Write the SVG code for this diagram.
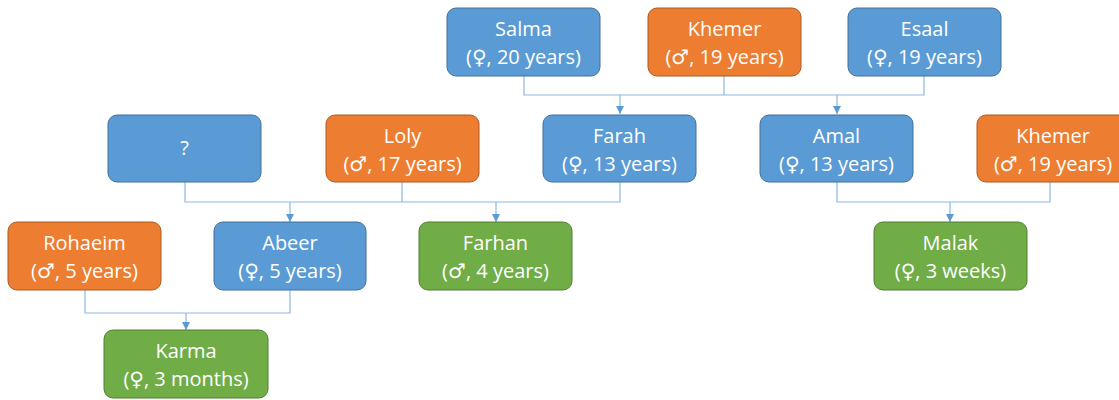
<svg xmlns="http://www.w3.org/2000/svg" width="1119" height="400" viewBox="0 0 1119 400">
<style>
.b{fill:#5B9BD5;stroke:#41719C;stroke-width:1}
.o{fill:#ED7D31;stroke:#AE5A21;stroke-width:1}
.g{fill:#70AD47;stroke:#507E32;stroke-width:1}
text{font-family:"Open Sans","DejaVu Sans",sans-serif;font-size:20px;fill:#fff;text-anchor:middle}
.c path{fill:none;stroke:#8DB7E3;stroke-width:1.2}
</style>
<defs>
<marker id="ar" viewBox="0 0 10 10" refX="10" refY="5" markerWidth="8" markerHeight="8" markerUnits="userSpaceOnUse" orient="auto">
<path d="M0,0 L10,5 L0,10 z" fill="#5B9BD5"/>
</marker>
</defs>
<rect width="1119" height="400" fill="#fff"/>
<g class="c">
<path d="M524,76 V95 H924 V76 M724,76 V95"/>
<path d="M620,95 V114" marker-end="url(#ar)"/>
<path d="M837,95 V114" marker-end="url(#ar)"/>
<path d="M185,182 V202 H620 V182 M402,182 V202"/>
<path d="M290,202 V222" marker-end="url(#ar)"/>
<path d="M496,202 V222" marker-end="url(#ar)"/>
<path d="M837,182 V202 H1050 V182"/>
<path d="M950,202 V222" marker-end="url(#ar)"/>
<path d="M85,290 V313 H290 V290"/>
<path d="M186,313 V330" marker-end="url(#ar)"/>
</g>
<g id="salma"><rect class="b" x="447" y="8" width="153" height="68" rx="9"/><text x="523.5" y="36">Salma</text><text x="523.5" y="64">(♀, 20 years)</text></g>
<g id="khemer1"><rect class="o" x="648" y="8" width="153" height="68" rx="9"/><text x="724.5" y="36">Khemer</text><text x="724.5" y="64">(♂, 19 years)</text></g>
<g id="esaal"><rect class="b" x="848" y="8" width="153" height="68" rx="9"/><text x="924.5" y="36">Esaal</text><text x="924.5" y="64">(♀, 19 years)</text></g>
<g id="unknown"><rect class="b" x="108" y="115" width="153" height="67" rx="9"/><text x="184.5" y="155">?</text></g>
<g id="loly"><rect class="o" x="326" y="115" width="153" height="67" rx="9"/><text x="402.5" y="143">Loly</text><text x="402.5" y="171">(♂, 17 years)</text></g>
<g id="farah"><rect class="b" x="543" y="115" width="153" height="67" rx="9"/><text x="619.5" y="143">Farah</text><text x="619.5" y="171">(♀, 13 years)</text></g>
<g id="amal"><rect class="b" x="760" y="115" width="153" height="67" rx="9"/><text x="836.5" y="143">Amal</text><text x="836.5" y="171">(♀, 13 years)</text></g>
<g id="khemer2"><rect class="o" x="977" y="115" width="153" height="67" rx="9"/><text x="1053" y="143">Khemer</text><text x="1053" y="171">(♂, 19 years)</text></g>
<g id="rohaeim"><rect class="o" x="8" y="222" width="153" height="68" rx="9"/><text x="84.5" y="250">Rohaeim</text><text x="84.5" y="278">(♂, 5 years)</text></g>
<g id="abeer"><rect class="b" x="214" y="222" width="152" height="68" rx="9"/><text x="290" y="250">Abeer</text><text x="290" y="278">(♀, 5 years)</text></g>
<g id="farhan"><rect class="g" x="419" y="222" width="153" height="68" rx="9"/><text x="495.5" y="250">Farhan</text><text x="495.5" y="278">(♂, 4 years)</text></g>
<g id="malak"><rect class="g" x="874" y="222" width="153" height="68" rx="9"/><text x="950.5" y="250">Malak</text><text x="950.5" y="278">(♀, 3 weeks)</text></g>
<g id="karma"><rect class="g" x="104" y="330" width="164" height="68" rx="9"/><text x="186" y="358">Karma</text><text x="186" y="386">(♀, 3 months)</text></g>
</svg>
